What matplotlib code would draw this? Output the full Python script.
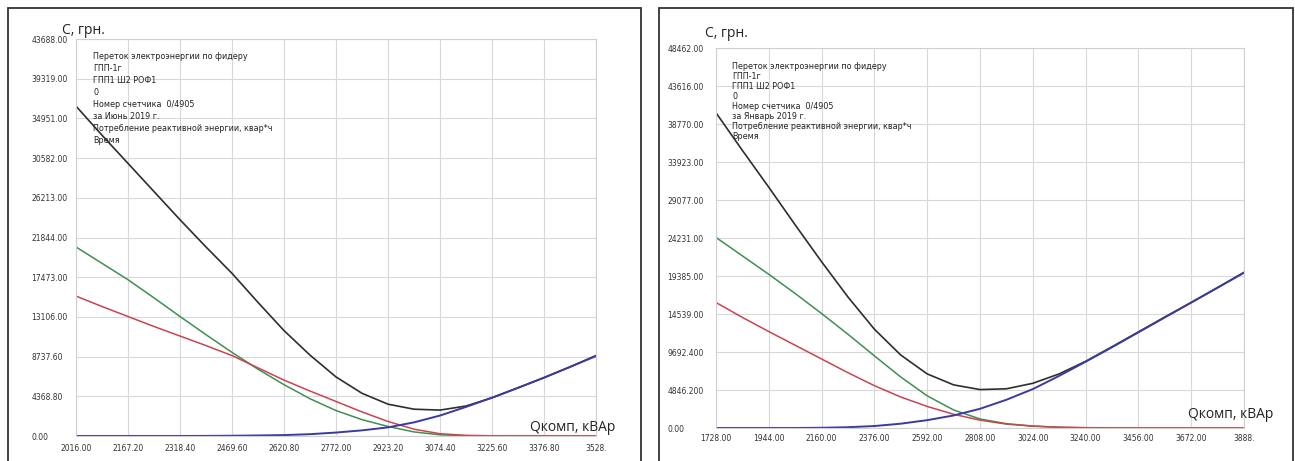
import matplotlib

matplotlib.use("Agg")
import matplotlib.pyplot as plt
from matplotlib.patches import Rectangle

# ---- left panel: June ----
june_q = [2016.0, 2091.6, 2167.2, 2242.8, 2318.4, 2394.0, 2469.6, 2545.2, 2620.8, 2696.4, 2772.0,
          2847.6, 2923.2, 2998.8, 3074.4, 3150.0, 3225.6, 3301.2, 3376.8, 3452.4, 3528.0]
june_total = [36300, 33100, 30000, 26900, 23800, 20800, 17900, 14700, 11600, 8900, 6500,
              4700, 3500, 2950, 2850, 3300, 4200, 5300, 6420, 7600, 8850]
june_green = [20800, 19000, 17200, 15200, 13150, 11150, 9200, 7350, 5650, 4100, 2800,
              1800, 1050, 450, 130, 30, 0, 0, 0, 0, 0]
june_red = [15400, 14250, 13150, 12050, 11000, 9950, 8850, 7500, 6150, 4950, 3800,
            2650, 1600, 750, 250, 70, 20, 5, 0, 0, 0]
june_blue = [0, 0, 0, 0, 0, 10, 30, 60, 100, 200, 380,
             620, 950, 1500, 2250, 3200, 4220, 5300, 6420, 7600, 8800]
june_xticks = [2016.0, 2167.2, 2318.4, 2469.6, 2620.8, 2772.0, 2923.2, 3074.4, 3225.6, 3376.8, 3528.0]
june_xlabels = ["2016.00", "2167.20", "2318.40", "2469.60", "2620.80", "2772.00",
                "2923.20", "3074.40", "3225.60", "3376.80", "3528."]
june_yticks = [0, 4368.8, 8737.6, 13106.4, 17475.2, 21844.0, 26212.8, 30581.6, 34950.4, 39319.2, 43688.0]
june_ylabels = ["0.00", "4368.80", "8737.60", "13106.00", "17473.00", "21844.00",
                "26213.00", "30582.00", "34951.00", "39319.00", "43688.00"]
june_info = ["Переток электроэнергии по фидеру", "ГПП-1г", "ГПП1 Ш2 РОФ1", "0",
             "Номер счетчика  0/4905", "за Июнь 2019 г.",
             "Потребление реактивной энергии, квар*ч", "Время"]

# ---- right panel: January ----
jan_q = [1728, 1836, 1944, 2052, 2160, 2268, 2376, 2484, 2592, 2700, 2808,
         2916, 3024, 3132, 3240, 3348, 3456, 3564, 3672, 3780, 3888]
jan_total = [40200, 35400, 30700, 25900, 21200, 16700, 12600, 9300, 6900, 5500, 4900,
             5000, 5700, 6900, 8500, 10350, 12250, 14150, 16000, 17900, 19850]
jan_green = [24300, 21950, 19600, 17150, 14600, 11950, 9200, 6500, 4100, 2300, 1150,
             550, 250, 100, 40, 10, 0, 0, 0, 0, 0]
jan_red = [16000, 14100, 12300, 10550, 8800, 7050, 5400, 3950, 2750, 1750, 1000,
           500, 230, 90, 30, 5, 0, 0, 0, 0, 0]
jan_blue = [0, 0, 0, 0, 30, 100, 250, 550, 1000, 1600, 2450,
            3600, 4960, 6650, 8450, 10300, 12200, 14100, 16000, 17900, 19800]
jan_xticks = [1728, 1944, 2160, 2376, 2592, 2808, 3024, 3240, 3456, 3672, 3888]
jan_xlabels = ["1728.00", "1944.00", "2160.00", "2376.00", "2592.00", "2808.00",
               "3024.00", "3240.00", "3456.00", "3672.00", "3888."]
jan_yticks = [0, 4846.2, 9692.4, 14538.6, 19384.8, 24231.0, 29077.2, 33923.4, 38769.6, 43615.8, 48462.0]
jan_ylabels = ["0.00", "4846.200", "9692.400", "14539.00", "19385.00", "24231.00",
               "29077.00", "33923.00", "38770.00", "43616.00", "48462.00"]
jan_info = ["Переток электроэнергии по фидеру", "ГПП-1г", "ГПП1 Ш2 РОФ1", "0",
            "Номер счетчика  0/4905", "за Январь 2019 г.",
            "Потребление реактивной энергии, квар*ч", "Время"]

W, H = 1295, 461
C_TOTAL = "#2e2e2e"
C_GREEN = "#3f8f52"
C_RED = "#c94450"
C_BLUE = "#3b3b9e"


def fx(px):
    return px / W


def fy(py):
    return 1 - py / H


def draw_panel(fig, box, frame, q, total, green, red, blue, xt, xl, yt, yl,
               info, info_pos, info_ls, ylab_pos, xlab_pos, ypad, xpad):
    # frame around the panel (open at the bottom)
    fx0, fx1 = frame
    fig.patches.append(Rectangle((fx(fx0), -0.05), fx(fx1 - fx0), fy(8) + 0.05,
                                 transform=fig.transFigure, fill=False,
                                 edgecolor="#333333", linewidth=1.3))
    left, top, right, bottom = box
    ax = fig.add_axes([fx(left), fy(bottom), fx(right - left), fy(top) - fy(bottom)])
    kw = dict(solid_joinstyle="round", solid_capstyle="round")
    ax.plot(q, total, color=C_TOTAL, lw=1.2, **kw)
    ax.plot(q, green, color=C_GREEN, lw=1.1, **kw)
    ax.plot(q, red, color=C_RED, lw=1.1, **kw)
    ax.plot(q, blue, color=C_BLUE, lw=1.4, **kw)
    ax.set_xlim(xt[0], xt[-1])
    ax.set_ylim(yt[0], yt[-1])
    ax.set_xticks(xt)
    ax.set_xticklabels(xl)
    ax.set_yticks(yt)
    ax.set_yticklabels(yl)
    for lab in ax.get_yticklabels():
        lab.set_ha("left")
    ax.tick_params(axis="y", length=0, pad=ypad, labelsize=5.5, colors="#333333")
    ax.tick_params(axis="x", length=0, pad=xpad, labelsize=5.5, colors="#333333")
    ax.grid(True, color="#d8d8d8", lw=0.8)
    ax.set_axisbelow(True)
    for s in ax.spines.values():
        s.set_color("#cfcfcf")
        s.set_linewidth(0.8)

    fig.text(fx(ylab_pos[0]), fy(ylab_pos[1]), "С, грн.", fontsize=10,
             family="Open Sans", ha="left", va="center", color="#222222")
    fig.text(fx(xlab_pos[0]), fy(xlab_pos[1]), "Qкомп, кВАр", fontsize=10,
             family="Open Sans", ha="left", va="center", color="#222222")
    fig.text(fx(info_pos[0]), fy(info_pos[1]), "\n".join(info), fontsize=5.8,
             ha="left", va="top", linespacing=info_ls, color="#222222")
    return ax


fig = plt.figure(figsize=(W / 100, H / 100), dpi=100)
fig.patch.set_facecolor("white")

draw_panel(fig, (76, 39, 596, 436), (8, 641), june_q, june_total, june_green, june_red,
           june_blue, june_xticks, june_xlabels, june_yticks, june_ylabels,
           june_info, (93, 52), 1.42, (62, 30), (530, 427), 32, 6)
draw_panel(fig, (716, 48, 1244, 428), (659, 1293), jan_q, jan_total, jan_green, jan_red,
           jan_blue, jan_xticks, jan_xlabels, jan_yticks, jan_ylabels,
           jan_info, (732, 62), 1.15, (705, 33), (1188, 414), 35, 4)

fig.savefig("out.png", dpi=100)
